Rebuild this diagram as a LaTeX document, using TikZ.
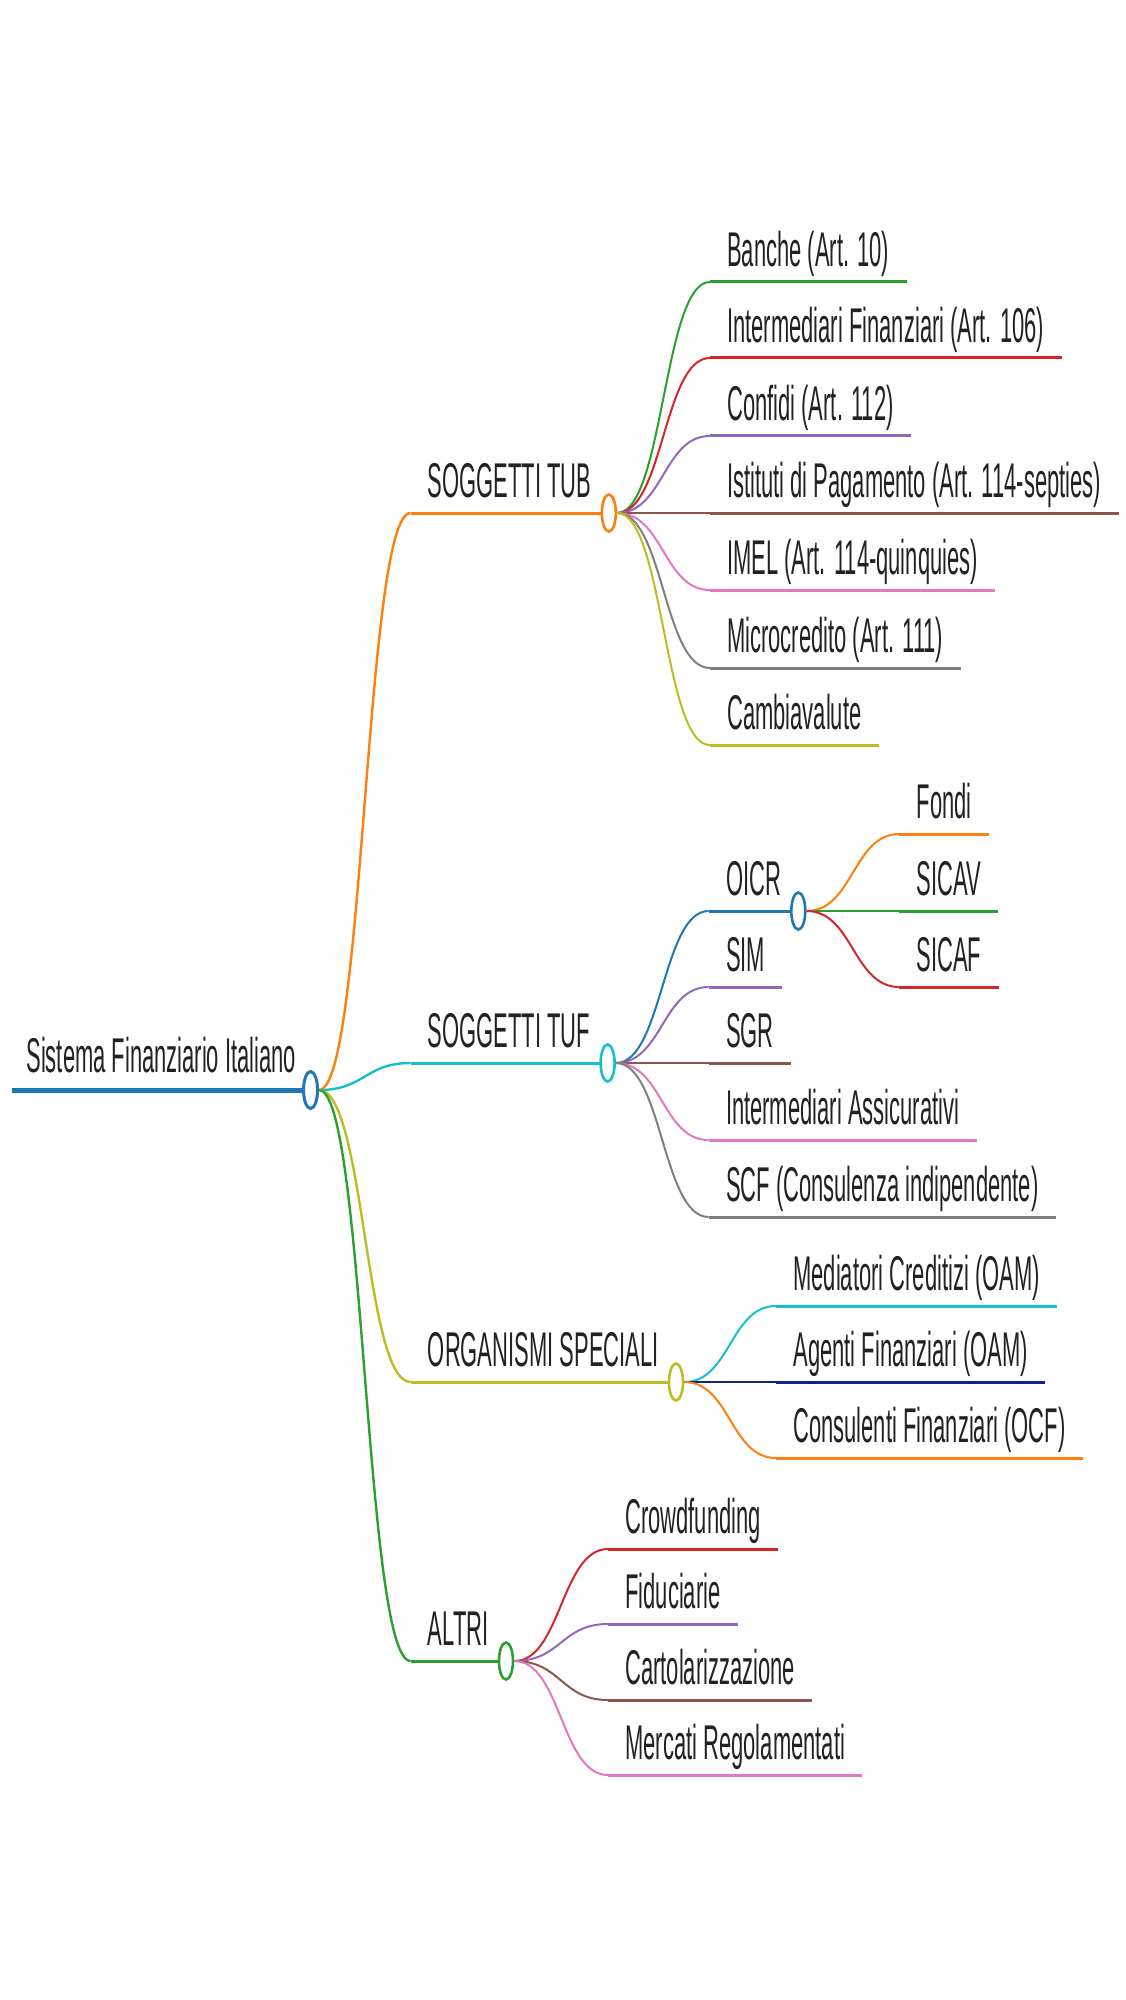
\documentclass[tikz,border=0pt]{standalone}
\usepackage{fontspec}
\setmainfont[FakeStretch=0.45]{Liberation Sans}
\usetikzlibrary{calc,shapes.geometric}

\definecolor{cblue}{HTML}{1F77B4}
\definecolor{corange}{HTML}{FF7F0E}
\definecolor{cgreen}{HTML}{2CA02C}
\definecolor{cred}{HTML}{D62728}
\definecolor{cpurple}{HTML}{9467BD}
\definecolor{cbrown}{HTML}{8C564B}
\definecolor{cpink}{HTML}{E377C2}
\definecolor{cgray}{HTML}{7F7F7F}
\definecolor{colive}{HTML}{BCBD22}
\definecolor{ccyan}{HTML}{17BECF}
\definecolor{cnavy}{HTML}{12208A}
\definecolor{textgray}{HTML}{222222}

\begin{document}
\begin{tikzpicture}[
    x = 0.5pt, y = -0.5pt, % one unit = one pixel, y going down
    item/.style = {anchor=south west, inner xsep=8.5pt, inner ysep=7.5pt,
        text depth=0pt, text=textgray, font=\fontsize{24.4pt}{28pt}\selectfont},
    uline/.style = {line width=1.5pt},
    knot/.style = {ellipse, draw=#1, fill=white, line width=1.3pt, inner sep=0pt,
        minimum width=7pt, minimum height=18.5pt},
    link/.style = {line width=1pt, to path={.. controls
        ($(\tikztostart)!0.5!(\tikztostart-|\tikztotarget)$) and
        ($(\tikztotarget)!0.5!(\tikztotarget-|\tikztostart)$) .. (\tikztotarget)}}
    ]
    \useasboundingbox (0,0) rectangle (1125,2000);

    % root
    \node[item, inner xsep=7pt, inner ysep=8.5pt] (root) at (12,1090) {Sistema Finanziario Italiano};
    \draw[cblue, line width=2.5pt] (root.south west) -- (root.south east);
    \node[knot=cblue, line width=1.5pt] (rootC) at (root.south east) {};

    % first level
    \node[item] (tub) at ($(rootC)+(100,-577)$) {SOGGETTI TUB};
    \draw[uline, corange] (tub.south west) -- (tub.south east);
    \node[knot=corange] (tubC) at (tub.south east) {};

    \node[item] (tuf) at ($(rootC)+(100,-27)$) {SOGGETTI TUF};
    \draw[uline, ccyan] (tuf.south west) -- (tuf.south east);
    \node[knot=ccyan] (tufC) at (tuf.south east) {};

    \node[item] (org) at ($(rootC)+(100,292)$) {ORGANISMI SPECIALI};
    \draw[uline, colive] (org.south west) -- (org.south east);
    \node[knot=colive] (orgC) at (org.south east) {};

    \node[item] (altri) at ($(rootC)+(100,571)$) {ALTRI};
    \draw[uline, cgreen] (altri.south west) -- (altri.south east);
    \node[knot=cgreen] (altriC) at (altri.south east) {};

    \path (rootC.east) edge[link, corange, line width=1.2pt] (tub.south west);
    \path (rootC.east) edge[link, ccyan, line width=1.2pt] (tuf.south west);
    \path (rootC.east) edge[link, colive, line width=1.2pt] (org.south west);
    \path (rootC.east) edge[link, cgreen, line width=1.2pt] (altri.south west);

    % SOGGETTI TUB
    \node[item] (banche) at ($(tubC)+(101,-231)$) {Banche (Art. 10)};
    \node[item] (intfin) at ($(tubC)+(101,-155)$) {Intermediari Finanziari (Art. 106)};
    \node[item] (confidi) at ($(tubC)+(101,-77)$) {Confidi (Art. 112)};
    \node[item] (istituti) at ($(tubC)+(101,0)$) {Istituti di Pagamento (Art. 114-septies)};
    \node[item] (imel) at ($(tubC)+(101,77)$) {IMEL (Art. 114-quinquies)};
    \node[item] (micro) at ($(tubC)+(101,155)$) {Microcredito (Art. 111)};
    \node[item] (cambia) at ($(tubC)+(101,232)$) {Cambiavalute};
    \draw[uline, cgreen] (banche.south west) -- (banche.south east);
    \draw[uline, cred] (intfin.south west) -- (intfin.south east);
    \draw[uline, cpurple] (confidi.south west) -- (confidi.south east);
    \draw[uline, cbrown] (istituti.south west) -- (istituti.south east);
    \draw[uline, cpink] (imel.south west) -- (imel.south east);
    \draw[uline, cgray] (micro.south west) -- (micro.south east);
    \draw[uline, colive] (cambia.south west) -- (cambia.south east);
    \path (tubC.east) edge[link, cgreen] (banche.south west);
    \path (tubC.east) edge[link, cred] (intfin.south west);
    \path (tubC.east) edge[link, cpurple] (confidi.south west);
    \path (tubC.east) edge[link, cbrown] (istituti.south west);
    \path (tubC.east) edge[link, cpink] (imel.south west);
    \path (tubC.east) edge[link, cgray] (micro.south west);
    \path (tubC.east) edge[link, colive] (cambia.south west);

    % SOGGETTI TUF
    \node[item] (oicr) at ($(tufC)+(101,-152)$) {OICR};
    \draw[uline, cblue] (oicr.south west) -- (oicr.south east);
    \node[knot=cblue] (oicrC) at (oicr.south east) {};
    \node[item] (sim) at ($(tufC)+(101,-76)$) {SIM};
    \node[item] (sgr) at ($(tufC)+(101,0)$) {SGR};
    \node[item] (intass) at ($(tufC)+(101,77)$) {Intermediari Assicurativi};
    \node[item] (scf) at ($(tufC)+(101,154)$) {SCF (Consulenza indipendente)};
    \draw[uline, cpurple] (sim.south west) -- (sim.south east);
    \draw[uline, cbrown] (sgr.south west) -- (sgr.south east);
    \draw[uline, cpink] (intass.south west) -- (intass.south east);
    \draw[uline, cgray] (scf.south west) -- (scf.south east);
    \path (tufC.east) edge[link, cblue] (oicr.south west);
    \path (tufC.east) edge[link, cpurple] (sim.south west);
    \path (tufC.east) edge[link, cbrown] (sgr.south west);
    \path (tufC.east) edge[link, cpink] (intass.south west);
    \path (tufC.east) edge[link, cgray] (scf.south west);

    % OICR
    \node[item] (fondi) at ($(oicrC)+(101,-77)$) {Fondi};
    \node[item] (sicav) at ($(oicrC)+(101,0)$) {SICAV};
    \node[item] (sicaf) at ($(oicrC)+(101,76)$) {SICAF};
    \draw[uline, corange] (fondi.south west) -- (fondi.south east);
    \draw[uline, cgreen] (sicav.south west) -- (sicav.south east);
    \draw[uline, cred] (sicaf.south west) -- (sicaf.south east);
    \path (oicrC.east) edge[link, corange] (fondi.south west);
    \path (oicrC.east) edge[link, cgreen] (sicav.south west);
    \path (oicrC.east) edge[link, cred] (sicaf.south west);

    % ORGANISMI SPECIALI
    \node[item] (mediatori) at ($(orgC)+(100,-76)$) {Mediatori Creditizi (OAM)};
    \node[item] (agenti) at ($(orgC)+(100,0)$) {Agenti Finanziari (OAM)};
    \node[item] (consulenti) at ($(orgC)+(100,76)$) {Consulenti Finanziari (OCF)};
    \draw[uline, ccyan] (mediatori.south west) -- (mediatori.south east);
    \draw[uline, cnavy] (agenti.south west) -- (agenti.south east);
    \draw[uline, corange] (consulenti.south west) -- (consulenti.south east);
    \path (orgC.east) edge[link, ccyan] (mediatori.south west);
    \path (orgC.east) edge[link, cnavy] (agenti.south west);
    \path (orgC.east) edge[link, corange] (consulenti.south west);

    % ALTRI
    \node[item] (crowd) at ($(altriC)+(102,-112)$) {Crowdfunding};
    \node[item] (fiduc) at ($(altriC)+(102,-37)$) {Fiduciarie};
    \node[item] (carto) at ($(altriC)+(102,39)$) {Cartolarizzazione};
    \node[item] (mercati) at ($(altriC)+(102,114)$) {Mercati Regolamentati};
    \draw[uline, cred] (crowd.south west) -- (crowd.south east);
    \draw[uline, cpurple] (fiduc.south west) -- (fiduc.south east);
    \draw[uline, cbrown] (carto.south west) -- (carto.south east);
    \draw[uline, cpink] (mercati.south west) -- (mercati.south east);
    \path (altriC.east) edge[link, cred] (crowd.south west);
    \path (altriC.east) edge[link, cpurple] (fiduc.south west);
    \path (altriC.east) edge[link, cbrown] (carto.south west);
    \path (altriC.east) edge[link, cpink] (mercati.south west);
\end{tikzpicture}
\end{document}
